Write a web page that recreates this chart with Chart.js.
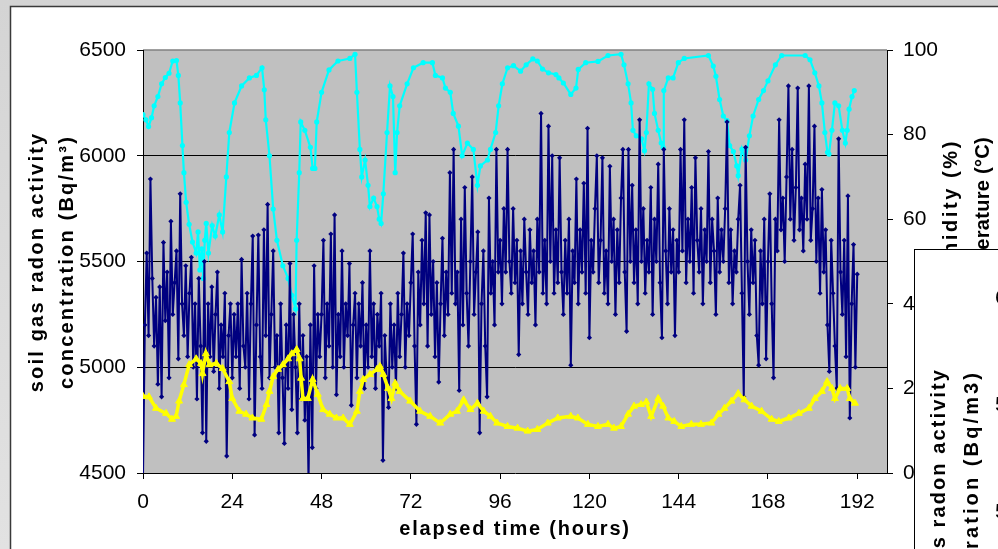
<!DOCTYPE html>
<html>
<head>
<meta charset="utf-8">
<script src="https://cdn.jsdelivr.net/npm/chart.js@4.4.1/dist/chart.umd.min.js"></script>
<style>
  html, body { margin: 0; padding: 0; background: #fff; }
  canvas { display: block; }
</style>
</head>
<body>
<canvas id="radonChart" width="998" height="549"></canvas>
<script>
// tick labels
const xTicks = [0, 24, 48, 72, 96, 120, 144, 168, 192];
const radonTicks = [4500, 5000, 5500, 6000, 6500];
const rightTicks = [0, 20, 40, 60, 80, 100];

// soil gas radon, one reading every half hour from 0 h
const radonStepHours = 0.5;
const radonValues = [
  4480, 5200, 5540, 5150, 5890, 5420, 5100, 5330, 4920, 5380, 4860, 5590, 5220, 5450, 4950, 5690, 5250, 5400, 5550, 5040, 5820, 5300, 5150, 5480,
  5050, 5350, 5520, 5000, 5300, 4850, 5420, 5100, 4690, 5500, 4650, 5300, 5050, 5380, 4980, 5250, 5450, 4900, 5200, 5050, 5350, 4580, 5150, 5300,
  4950, 5250, 5050, 5300, 4900, 5510, 5100, 5000, 5350, 4850, 5300, 5620, 4680, 5200, 5625, 5050, 4900, 5650, 5150, 5770, 4950, 5250, 5550, 5000,
  5150, 4690, 5300, 4950, 4640, 5200, 4900, 5490, 4800, 5250, 5000, 4690, 5300, 4850, 5150, 4750, 5050, 4460, 5200, 4620, 5480, 4900, 5250, 5050,
  5250, 5600, 4950, 5300, 5100, 5630, 5000, 5720, 4870, 5250, 5050, 5550, 5000, 5300, 5150, 5490, 4820, 5200, 5350, 4950, 5300, 5100, 5400, 4900,
  5200, 5000, 5550, 5050, 5300, 4900, 5250, 5100, 5350, 4560, 5150, 4950, 4810, 5300, 5000, 5200, 4900, 5350, 5050, 5250, 5540, 5000, 5300, 5150,
  5400, 5630, 5100, 4730, 5450, 5200, 5600, 5300, 5730, 5100, 5720, 5250, 5500, 5050, 5400, 4930, 5300, 5610, 5150, 5450, 5250, 5920, 5350, 6030,
  5300, 5450, 4890, 5700, 5200, 5850, 5350, 5100, 5500, 5900, 5250, 5450, 5640, 4690, 5300, 5550, 5100, 4860, 5800, 5350, 5500, 5200, 6030, 5450,
  5600, 5300, 5750, 5450, 6030, 5500, 5350, 5750, 5400, 5600, 5060, 5550, 5300, 5700, 5450, 5250, 5650, 5400, 5550, 5200, 5700, 5450, 6200, 5350,
  5600, 5300, 6140, 5500, 6000, 5350, 5650, 5400, 5990, 5450, 5250, 5600, 5350, 5700, 5010, 5550, 5400, 5890, 5300, 5650, 5450, 5870, 5350, 6130,
  5140, 5600, 5450, 5750, 6000, 5400, 5600, 5990, 5350, 5550, 5300, 5950, 5500, 5700, 5250, 5650, 5400, 5800, 6030, 5450, 5170, 6030, 5500, 5860,
  5400, 5650, 5300, 6170, 5500, 5750, 5350, 5600, 5450, 5850, 5250, 5700, 5500, 5960, 5400, 5140, 6030, 5550, 5300, 5750, 5450, 5650, 5150, 5600,
  5450, 6030, 5550, 6170, 5400, 5700, 5500, 5850, 5350, 5990, 5600, 5450, 5750, 5300, 5650, 5500, 6020, 5400, 5700, 5550, 5250, 5800, 5450, 5650,
  5500, 5750, 6160, 5400, 5650, 5300, 5550, 5450, 5700, 5860, 5350, 4860, 6040, 5500, 5250, 5650, 5400, 5600, 5150, 5010, 5550, 5300, 5700, 5040,
  5500, 5820, 5300, 4950, 5700, 5550, 6170, 5650, 5800, 5500, 5900, 6330, 5700, 6030, 5600, 5850, 6320, 5650, 5800, 5550, 5960, 5700, 6330, 5600,
  5750, 6140, 5500, 5800, 5350, 5840, 5450, 5650, 5200, 4980, 5600, 5350, 5100, 4900, 6080, 5450, 5250, 5600, 5050, 5810, 4760, 5300, 5580, 5000,
  5440
];

// humidity (%)
const humHours = [
  0, 0.8, 1.5, 2.3, 3, 4, 5, 6, 7, 8, 9, 9.5, 10, 10.6, 11, 11.6, 12.4, 13.3, 14.3, 14.8, 15.3, 15.8, 16.2, 16.6, 17, 17.6, 18.6, 19.4, 20.5, 21.4,
  22.4, 23.2, 24.6, 26.5, 28.6, 30.5, 32, 32.6, 33, 34, 35, 36, 37.6, 39, 40, 41, 41.3, 42, 42.4, 43.5, 45, 45.6, 46.2, 46.7, 48, 50, 52.4, 55.6,
  57, 57.5, 58.3, 58.8, 59.7, 60.5, 61, 62, 62.9, 63.5, 64, 64.6, 65.6, 66.4, 67.2, 67.8, 68.3, 69, 71, 72.7, 75.3, 77.8, 78.6, 80.5, 81.3, 82.6,
  83.4, 84.8, 85.8, 87.2, 88.8, 89.9, 90.7, 92.6, 93.4, 94.8, 95.6, 96.6, 98, 99.6, 101.5, 103, 104.8, 106, 107.4, 109, 111, 111.8, 113, 115,
  116.4, 117, 119, 122.3, 125, 128.5, 129.3, 130.4, 131.2, 131.7, 132.6, 134, 134.8, 135.3, 136, 137, 137.5, 138.5, 139.3, 139.8, 140, 141.2,
  142.5, 143.9, 145.5, 152, 153.3, 154, 155, 156, 157, 157.7, 158.7, 159.6, 160, 161, 162, 163, 164, 165.5, 166.8, 168, 170, 171.7, 178, 179.3,
  180.6, 181.7, 182.5, 183.3, 184, 184.4, 185.2, 186, 187, 188, 188.8, 189.3, 189.8, 190.6, 191.2
];
const humValues = [
  84.7, 83.5, 81.9, 84, 86.8, 89, 92, 93.5, 94.5, 97.4, 97.5, 94, 87.5, 77.4, 71, 64, 58.8, 54.6, 52, 57, 48, 53, 46, 55, 59, 52, 58.5, 56, 61, 57,
  70, 80.5, 87.5, 91.5, 93.4, 94, 95.8, 90.6, 83.5, 75, 62.4, 55, 49, 46, 42, 38.8, 55, 71, 83, 81, 77, 72, 72, 83, 90, 95.3, 97.4, 98,
  99, 90, 76.5, 70, 74, 68, 63, 65, 63, 60, 59, 66, 80.5, 91.5, 89, 71, 80.5, 86.8, 92, 95.8, 97, 97, 94, 93.4, 91, 90,
  85, 82, 75, 78, 76.5, 68, 72.6, 74, 76.5, 80.5, 86.8, 92, 95.8, 96.3, 95, 96.5, 97.9, 97.4, 95.5, 94.6, 94.2, 93.4, 92.2, 89.5,
  91, 95.4, 97, 97.3, 98.7, 99, 96.5, 92, 87.5, 81, 79.7, 79, 76.2, 80.5, 92, 90.7, 85, 81, 78, 77, 90.4, 93.4,
  93.4, 97, 98, 98.7, 96.2, 93.8, 88.3, 84.4, 83.3, 77.4, 76, 72.6, 70.3, 76.6, 74, 79.7, 84.4, 88.3, 90.4, 92.7, 96.5, 98.7, 98.7, 97.7,
  94.6, 91.5, 87.5, 80.5, 75.8, 75.4, 81, 87.5, 86.8, 81, 78, 81, 86, 89, 90.4
];

// temperature (°C)
const tempHours = [
  0, 1.6, 3.5, 6.2, 7.8, 8.9, 9.7, 11, 12.4, 14.3, 15.6, 16, 16.9, 17.9, 19.7, 21.4, 23.2, 24, 25.9, 27.7, 29.4, 31.8, 33.2, 34, 35, 36.3, 37.6,
  39, 40, 41.3, 42.1, 42.5, 43, 44.3, 45.6, 47, 48.4, 50.2, 52, 53.8, 55.6, 57.5, 58.3, 59.2, 61, 62.9, 63.7, 64.6, 65.9, 66.8, 67.8, 69, 71.8,
  74.5, 77.2, 79.9, 82.6, 84.4, 86.2, 88, 89.9, 91.6, 93.4, 95.2, 98, 100.7, 103.4, 106, 108.8, 111.5, 115, 116.9, 119.6, 122.3, 125, 126.6,
  128.5, 130.4, 132, 133.9, 135.3, 136.6, 138.5, 139.8, 141.2, 142.8, 144.7, 147.4, 150, 152.8, 154.7, 156.3, 158.2, 160, 161.7, 163.6, 166.3,
  169, 170.9, 173.6, 176.3, 179, 180.6, 182.5, 183.9, 185.2, 186, 187.4, 189.3, 190, 191.4
];
const tempValues = [
  18.1, 18, 15.3, 14.1, 12.7, 13.4, 17, 20.9, 25.6, 27, 25.9, 23.5, 28.2, 25.6, 25.9, 24.7, 21.6, 17.6, 14.6, 13.9, 13, 12.7, 16.2, 19.3, 22.8, 24.5, 25.6,
  27, 28.2, 29.2, 27, 22.4, 17.6, 17.6, 22.1, 18.6, 15, 13.9, 13, 13, 11.5, 14.6, 19.3, 22.1, 23.3, 24.5, 25.2, 23.3, 20, 17.6, 21.2, 19.3, 17,
  14.6, 13.4, 11.8, 13.9, 14.6, 17.3, 15, 16.5, 14.6, 13.4, 11.8, 11, 10.6, 9.9, 10.3, 11.8, 13, 13.4, 13, 11.5, 11, 11.5, 10.6,
  11, 13.9, 15.8, 16.2, 16.8, 13.4, 17.6, 15.8, 13, 12.2, 11, 11.5, 11.5, 11.8, 13.9, 15.3, 17, 18.8, 17.3, 15.8, 14.6,
  12.7, 12.2, 13, 14.1, 15.3, 17.6, 19.3, 21.6, 20, 17.6, 20, 20, 17.6, 16.5
];

const FONT = '"Liberation Sans", Arial, sans-serif';

function toPoints(xs, ys) {
  return ys.map((y, i) => ({ x: xs[i], y: y }));
}
const radonHours = radonValues.map((v, i) => i * radonStepHours);

function vText(ctx, str, x, y, align, spacing) {
  ctx.save();
  ctx.letterSpacing = spacing + 'px';
  ctx.translate(x, y);
  ctx.rotate(-Math.PI / 2);
  ctx.textAlign = align;
  ctx.textBaseline = 'middle';
  ctx.fillText(str, 0, 0);
  ctx.restore();
}

const framePlugin = {
  id: 'frame',
  beforeDraw(chart) {
    const { ctx, chartArea: a } = chart;
    ctx.save();
    const g = ctx.createLinearGradient(0, 0, 0, 549);
    g.addColorStop(0, '#d4d4d4');
    g.addColorStop(1, '#e2e2e2');
    ctx.fillStyle = g;
    ctx.fillRect(0, 0, 998, 549);
    ctx.fillStyle = '#ffffff';
    ctx.fillRect(10.5, 6.5, 1000, 600);
    ctx.strokeStyle = '#3a3a3a';
    ctx.lineWidth = 1.5;
    ctx.strokeRect(10.5, 6.5, 1000, 600);
    // plot area
    ctx.fillStyle = '#c0c0c0';
    ctx.fillRect(a.left, a.top, a.width, a.height);
    ctx.strokeStyle = '#808080';
    ctx.lineWidth = 1.5;
    ctx.beginPath();
    ctx.moveTo(a.left, a.top);
    ctx.lineTo(a.right, a.top);
    ctx.stroke();
    ctx.restore();
  },
  afterDraw(chart) {
    const { ctx } = chart;
    ctx.save();
    ctx.fillStyle = '#000';
    ctx.font = 'bold 20px ' + FONT;
    vText(ctx, 'soil gas radon activity', 37, 262, 'center', 2.2);
    vText(ctx, 'concentration (Bq/m\u00b3)', 67, 262, 'center', 2.2);
    vText(ctx, 'relative humidity (%)', 951, 139, 'right', 2.6);
    vText(ctx, 'air temperature (\u00b0C)', 983, 137, 'right', 0.3);
    ctx.letterSpacing = '1.8px';
    ctx.textAlign = 'center';
    ctx.textBaseline = 'middle';
    ctx.fillText('elapsed time (hours)', 515, 529);

    // second chart panel overlapping on the right
    ctx.letterSpacing = '0px';
    ctx.fillStyle = '#ffffff';
    ctx.fillRect(914.5, 249.5, 200, 400);
    ctx.strokeStyle = '#000';
    ctx.lineWidth = 1;
    ctx.strokeRect(914.5, 249.5, 200, 400);
    ctx.fillStyle = '#000';
    ctx.font = 'bold 20px ' + FONT;
    vText(ctx, 'soil gas radon activity', 939, 368, 'right', 2.1);
    vText(ctx, 'concentration (Bq/m3)', 972, 370, 'right', 3.1);
    ctx.letterSpacing = '0px';
    ctx.font = '21px ' + FONT;
    ctx.textAlign = 'left';
    ctx.textBaseline = 'middle';
    ['6000', '5500', '5000'].forEach((t, i) => ctx.fillText(t, 995, 298 + i * 107));
    ctx.restore();
  }
};

const tickFont = { family: FONT, size: 21 };
const plainLabel = v => String(v);

new Chart(document.getElementById('radonChart').getContext('2d'), {
  type: 'scatter',
  data: {
    datasets: [
      {
        label: 'temperature',
        data: toPoints(tempHours, tempValues),
        yAxisID: 'y2',
        showLine: true,
        borderColor: '#ffff00',
        borderWidth: 3.5,
        pointStyle: 'triangle',
        pointRadius: 4,
        pointBackgroundColor: '#ffff00',
        pointBorderColor: '#ffff00',
        pointBorderWidth: 1,
      },
      {
        label: 'radon',
        data: toPoints(radonHours, radonValues),
        yAxisID: 'y',
        showLine: true,
        borderColor: '#000080',
        borderWidth: 2,
        pointStyle: 'rectRot',
        pointRadius: 2.6,
        pointBackgroundColor: '#000080',
        pointBorderColor: '#000080',
        pointBorderWidth: 0,
      },
      {
        label: 'humidity',
        data: toPoints(humHours, humValues),
        yAxisID: 'y2',
        showLine: true,
        borderColor: '#00ffff',
        borderWidth: 2.2,
        pointStyle: 'circle',
        pointRadius: 2.6,
        pointBackgroundColor: '#00ffff',
        pointBorderColor: '#00ffff',
        pointBorderWidth: 0,
      },
    ],
  },
  options: {
    responsive: false,
    animation: false,
    layout: { padding: { left: 0, top: 50, right: 0, bottom: 0 } },
    plugins: {
      legend: { display: false },
      tooltip: { enabled: false },
    },
    scales: {
      x: {
        type: 'linear',
        min: 0,
        max: 200,
        afterBuildTicks: s => { s.ticks = xTicks.map(v => ({ value: v })); },
        afterFit: s => { s.height = 76; },
        grid: { drawOnChartArea: false, drawTicks: true, tickLength: 6, tickColor: '#000' },
        border: { color: '#000', width: 1 },
        ticks: { color: '#000', font: tickFont, padding: 11, maxRotation: 0, callback: plainLabel },
      },
      y: {
        position: 'left',
        min: 4500,
        max: 6500,
        afterBuildTicks: s => { s.ticks = radonTicks.map(v => ({ value: v })); },
        afterFit: s => { s.width = 143; },
        grid: {
          color: c => (c.tick && (c.tick.value === 6500 || c.tick.value === 4500)) ? 'rgba(0,0,0,0)' : '#000',
          lineWidth: 1,
          tickLength: 6,
          tickColor: '#000',
        },
        border: { color: '#000', width: 1 },
        ticks: { color: '#000', font: tickFont, padding: 11, callback: plainLabel },
      },
      y2: {
        position: 'right',
        min: 0,
        max: 100,
        afterBuildTicks: s => { s.ticks = rightTicks.map(v => ({ value: v })); },
        afterFit: s => { s.width = 111; },
        grid: { drawOnChartArea: false, tickLength: 6, tickColor: '#000' },
        border: { color: '#000', width: 1 },
        ticks: { color: '#000', font: tickFont, padding: 10, callback: plainLabel },
      },
    },
  },
  plugins: [framePlugin],
});
</script>
</body>
</html>
